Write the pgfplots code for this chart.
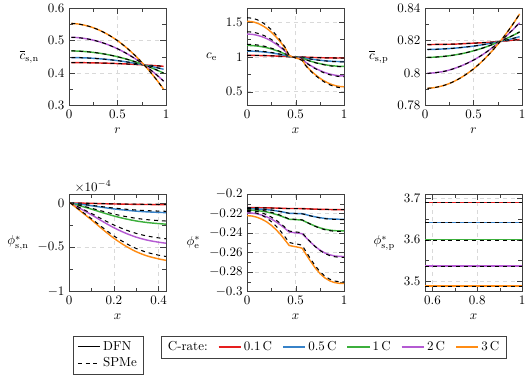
\documentclass[border=0pt]{standalone}
\usepackage{pgfplots}
\pgfplotsset{compat=1.18}
\usepackage{pgfplotstable}

\definecolor{cr1}{RGB}{230,30,30}
\definecolor{cr2}{RGB}{55,130,200}
\definecolor{cr3}{RGB}{60,175,60}
\definecolor{cr4}{RGB}{180,90,210}
\definecolor{cr5}{RGB}{255,140,20}

% particle concentrations (DFN and SPMe coincide)
\pgfplotstableread{
r     d1     d2     d3     d4     d5
0.025 0.4322 0.4478 0.4682 0.5101 0.5527
0.1   0.4321 0.4474 0.4675 0.5088 0.5507
0.2   0.4317 0.4463 0.4653 0.5045 0.5443
0.3   0.4311 0.4444 0.4617 0.4974 0.5336
0.4   0.4303 0.4417 0.4567 0.4875 0.5187
0.5   0.4292 0.4383 0.4502 0.4747 0.4996
0.6   0.4279 0.4341 0.4423 0.4591 0.4761
0.7   0.4263 0.4292 0.4329 0.4406 0.4484
0.8   0.4245 0.4235 0.4221 0.4193 0.4165
0.9   0.4225 0.4170 0.4099 0.3952 0.3803
0.975 0.4208 0.4117 0.3998 0.3752 0.3503
}\csn

\pgfplotstableread{
r     d1     d2     d3     d4     d5
0.025 0.8175 0.8145 0.8096 0.7998 0.7906
0.1   0.8176 0.8146 0.8098 0.8002 0.7911
0.2   0.8177 0.8149 0.8103 0.8011 0.7925
0.3   0.8178 0.8153 0.8111 0.8028 0.7949
0.4   0.8181 0.8159 0.8122 0.8051 0.7983
0.5   0.8184 0.8166 0.8137 0.8080 0.8026
0.6   0.8187 0.8175 0.8155 0.8116 0.8079
0.7   0.8191 0.8186 0.8177 0.8159 0.8142
0.8   0.8196 0.8198 0.8202 0.8208 0.8214
0.9   0.8202 0.8212 0.8230 0.8264 0.8296
0.975 0.8207 0.8224 0.8253 0.8310 0.8364
}\csp

% electrolyte concentration: d = DFN, s = SPMe
\pgfplotstableread{
x     d1    d2    d3    d4    d5    s1    s2    s3    s4    s5
0     1.020 1.082 1.163 1.326 1.510 1.022 1.090 1.179 1.359 1.561
0.05  1.020 1.081 1.161 1.323 1.504 1.022 1.089 1.177 1.355 1.554
0.1   1.019 1.078 1.155 1.310 1.485 1.021 1.086 1.171 1.341 1.534
0.15  1.018 1.072 1.145 1.290 1.453 1.020 1.079 1.160 1.319 1.498
0.2   1.016 1.065 1.131 1.262 1.409 1.018 1.072 1.144 1.288 1.450
0.25  1.014 1.056 1.113 1.225 1.352 1.015 1.062 1.124 1.248 1.387
0.3   1.011 1.045 1.090 1.180 1.282 1.012 1.050 1.099 1.198 1.310
0.35  1.008 1.032 1.064 1.128 1.200 1.009 1.035 1.070 1.141 1.220
0.4   1.004 1.017 1.034 1.067 1.105 1.004 1.019 1.037 1.074 1.116
0.433 1.001 1.003 1.006 1.013 1.020 1.001 1.003 1.007 1.014 1.022
0.5   0.999 0.998 0.995 0.990 0.985 0.999 0.998 0.995 0.990 0.984
0.567 0.998 0.992 0.984 0.968 0.950 0.998 0.992 0.983 0.967 0.948
0.6   0.995 0.981 0.963 0.926 0.884 0.995 0.980 0.962 0.923 0.879
0.65  0.992 0.970 0.939 0.878 0.810 0.992 0.969 0.937 0.873 0.802
0.7   0.990 0.960 0.919 0.838 0.747 0.990 0.958 0.916 0.832 0.737
0.75  0.988 0.951 0.902 0.804 0.693 0.987 0.949 0.898 0.796 0.681
0.8   0.986 0.944 0.888 0.775 0.649 0.985 0.942 0.884 0.766 0.635
0.85  0.985 0.938 0.876 0.753 0.614 0.984 0.936 0.871 0.743 0.599
0.9   0.984 0.934 0.869 0.738 0.590 0.983 0.931 0.864 0.728 0.574
0.95  0.983 0.932 0.864 0.728 0.575 0.982 0.929 0.859 0.717 0.558
1     0.983 0.931 0.862 0.725 0.570 0.982 0.928 0.856 0.714 0.553
}\ce

% negative electrode potential, in units of 1e-4
\pgfplotstableread{
x     d1      d2      d3      d4      d5      s1      s2      s3      s4      s5
0.005 0       0       0       0       0       0       0       0       0       0
0.05  -0.0028 -0.0154 -0.0336 -0.0637 -0.0907 -0.0025 -0.0133 -0.0287 -0.0567 -0.0847
0.1   -0.0059 -0.0325 -0.0708 -0.1342 -0.1912 -0.0053 -0.0280 -0.0605 -0.1195 -0.1785
0.15  -0.0092 -0.0506 -0.1104 -0.2093 -0.2981 -0.0083 -0.0437 -0.0943 -0.1863 -0.2783
0.2   -0.0123 -0.0677 -0.1476 -0.2798 -0.3985 -0.0111 -0.0584 -0.1261 -0.2491 -0.3721
0.25  -0.0149 -0.0820 -0.1788 -0.3390 -0.4828 -0.0134 -0.0708 -0.1527 -0.3017 -0.4507
0.3   -0.0170 -0.0935 -0.2040 -0.3868 -0.5508 -0.0153 -0.0808 -0.1743 -0.3443 -0.5143
0.35  -0.0185 -0.1018 -0.2220 -0.4209 -0.5994 -0.0167 -0.0879 -0.1896 -0.3746 -0.5596
0.4   -0.0195 -0.1073 -0.2340 -0.4436 -0.6318 -0.0176 -0.0926 -0.1999 -0.3949 -0.5899
0.433 -0.0200 -0.1100 -0.2400 -0.4550 -0.6480 -0.0180 -0.0950 -0.2050 -0.4050 -0.6050
}\phisn

\pgfplotstableread{
x     d1      d2      d3      d4      d5      s1      s2      s3      s4      s5
0     -0.2140 -0.2150 -0.2165 -0.2193 -0.2222 -0.2141 -0.2148 -0.2155 -0.2168 -0.2180
0.05  -0.2140 -0.2151 -0.2166 -0.2196 -0.2226 -0.2141 -0.2149 -0.2156 -0.2171 -0.2184
0.1   -0.2140 -0.2153 -0.2170 -0.2203 -0.2238 -0.2141 -0.2151 -0.2160 -0.2179 -0.2197
0.15  -0.2141 -0.2156 -0.2176 -0.2216 -0.2258 -0.2142 -0.2154 -0.2167 -0.2193 -0.2217
0.2   -0.2142 -0.2160 -0.2184 -0.2234 -0.2285 -0.2143 -0.2158 -0.2176 -0.2212 -0.2245
0.25  -0.2143 -0.2166 -0.2196 -0.2257 -0.2322 -0.2144 -0.2164 -0.2188 -0.2237 -0.2284
0.3   -0.2144 -0.2173 -0.2210 -0.2287 -0.2368 -0.2145 -0.2172 -0.2203 -0.2269 -0.2331
0.35  -0.2146 -0.2181 -0.2227 -0.2322 -0.2422 -0.2147 -0.2181 -0.2221 -0.2307 -0.2388
0.4   -0.2148 -0.2191 -0.2246 -0.2362 -0.2485 -0.2149 -0.2191 -0.2242 -0.2350 -0.2453
0.433 -0.2149 -0.2198 -0.2259 -0.2390 -0.2528 -0.2150 -0.2198 -0.2256 -0.2380 -0.2497
0.467 -0.2149 -0.2199 -0.2261 -0.2394 -0.2535 -0.2150 -0.2199 -0.2258 -0.2385 -0.2505
0.5   -0.2149 -0.2200 -0.2263 -0.2398 -0.2541 -0.2150 -0.2200 -0.2260 -0.2389 -0.2511
0.533 -0.2149 -0.2201 -0.2265 -0.2402 -0.2547 -0.2150 -0.2201 -0.2262 -0.2393 -0.2517
0.567 -0.2150 -0.2202 -0.2268 -0.2408 -0.2556 -0.2151 -0.2203 -0.2265 -0.2399 -0.2526
0.6   -0.2151 -0.2210 -0.2284 -0.2441 -0.2608 -0.2152 -0.2211 -0.2283 -0.2435 -0.2580
0.65  -0.2153 -0.2223 -0.2307 -0.2491 -0.2685 -0.2154 -0.2224 -0.2308 -0.2489 -0.2660
0.7   -0.2155 -0.2234 -0.2329 -0.2537 -0.2756 -0.2156 -0.2235 -0.2331 -0.2538 -0.2734
0.75  -0.2157 -0.2243 -0.2347 -0.2575 -0.2815 -0.2157 -0.2245 -0.2351 -0.2579 -0.2795
0.8   -0.2158 -0.2250 -0.2361 -0.2604 -0.2860 -0.2158 -0.2253 -0.2366 -0.2610 -0.2842
0.85  -0.2159 -0.2255 -0.2370 -0.2623 -0.2890 -0.2159 -0.2257 -0.2376 -0.2631 -0.2873
0.9   -0.2160 -0.2257 -0.2376 -0.2635 -0.2908 -0.2160 -0.2260 -0.2382 -0.2643 -0.2892
0.95  -0.2160 -0.2259 -0.2378 -0.2640 -0.2916 -0.2160 -0.2262 -0.2384 -0.2649 -0.2900
1     -0.2160 -0.2259 -0.2379 -0.2641 -0.2918 -0.2160 -0.2262 -0.2385 -0.2650 -0.2902
}\phie

\pgfplotstableread{
x      d1    d2    d3    d4    d5    s1    s2    s3    s4    s5
0.5667 3.690 3.642 3.600 3.537 3.488 3.689 3.641 3.598 3.535 3.487
1      3.690 3.642 3.600 3.537 3.488 3.689 3.641 3.598 3.535 3.487
}\phisp

\pgfplotsset{
  panel/.style={
    scale only axis, width=74.6pt, height=75pt,
    grid=major, grid style={dashed, black!15},
    minor tick num=1,
    axis line style={black!75}, tick style={black!75},
    ylabel style={rotate=-90},
  },
  dfn/.style={line width=1.1pt},
  spme/.style={black, dashed, line width=0.8pt},
}

\begin{document}
\begin{tikzpicture}
\path[use as bounding box] (-53.1pt,6.2pt) rectangle (354.5pt,-282.2pt);
% ---- top row ----
\begin{axis}[panel, at={(0pt,0pt)}, anchor=north west,
  xmin=0, xmax=1, ymin=0.3, ymax=0.6,
  xtick={0,0.5,1}, ytick={0.3,0.4,0.5,0.6},
  xlabel={$r$}, ylabel={$\overline{c}_{\mathrm{s,n}}$}]
  \pgfplotsinvokeforeach{1,...,5}{
    \addplot[dfn, cr#1, smooth] table[x=r, y=d#1] {\csn};
    \addplot[spme, smooth] table[x=r, y=d#1] {\csn};
  }
\end{axis}

\begin{axis}[panel, at={(137pt,0pt)}, anchor=north west,
  xmin=0, xmax=1, ymin=0.3, ymax=1.7,
  xtick={0,0.5,1}, ytick={0.5,1,1.5},
  xlabel={$x$}, ylabel={$c_{\mathrm{e}}$}]
  \pgfplotsinvokeforeach{1,...,5}{
    \addplot[dfn, cr#1, smooth] table[x=x, y=d#1] {\ce};
    \addplot[spme, smooth] table[x=x, y=s#1] {\ce};
  }
\end{axis}

\begin{axis}[panel, at={(273.8pt,0pt)}, anchor=north west,
  xmin=0, xmax=1, ymin=0.78, ymax=0.84,
  xtick={0,0.5,1}, ytick={0.78,0.8,0.82,0.84},
  xlabel={$r$}, ylabel={$\overline{c}_{\mathrm{s,p}}$}]
  \pgfplotsinvokeforeach{1,...,5}{
    \addplot[dfn, cr#1, smooth] table[x=r, y=d#1] {\csp};
    \addplot[spme, smooth] table[x=r, y=d#1] {\csp};
  }
\end{axis}

% ---- bottom row ----
\begin{axis}[panel, at={(0pt,-143pt)}, anchor=north west,
  xmin=0, xmax=0.4333, ymin=-1e-4, ymax=0.1e-4,
  xtick={0,0.2,0.4}, ytick={-1e-4,-0.5e-4,0},
  scaled y ticks=base 10:4, tick scale binop=\times,
  every y tick scale label/.style={at={(rel axis cs:0,1)}, anchor=south west, inner sep=1pt, xshift=3pt},
  xlabel={$x$}, ylabel={$\phi^*_{\mathrm{s,n}}$},
  legend cell align=left,
  legend style={at={(0.042,-0.456)}, anchor=north west, draw=black!75}]
  \addlegendimage{draw=black, line width=0.8pt}
  \addlegendentry{DFN}
  \addlegendimage{draw=black, dashed, line width=0.8pt}
  \addlegendentry{SPMe}
  \pgfplotsinvokeforeach{1,...,5}{
    \addplot[dfn, cr#1, smooth] table[x=x, y expr=\thisrow{d#1}*1e-4] {\phisn};
    \addplot[spme, smooth] table[x=x, y expr=\thisrow{s#1}*1e-4] {\phisn};
  }
\end{axis}

\begin{axis}[panel, at={(137pt,-143pt)}, anchor=north west,
  xmin=0, xmax=1, ymin=-0.3, ymax=-0.2,
  xtick={0,0.5,1}, ytick={-0.3,-0.28,-0.26,-0.24,-0.22,-0.2},
  xlabel={$x$}, ylabel={$\phi^*_{\mathrm{e}}$},
  legend columns=6,
  legend style={at={(-0.887,-0.456)}, anchor=north west, draw=black!75,
    /tikz/every even column/.append style={column sep=6pt}}]
  \addlegendimage{empty legend}
  \addlegendentry{C-rate:}
  \addlegendimage{draw=cr1, line width=0.8pt}
  \addlegendentry{0.1\,C}
  \addlegendimage{draw=cr2, line width=0.8pt}
  \addlegendentry{0.5\,C}
  \addlegendimage{draw=cr3, line width=0.8pt}
  \addlegendentry{1\,C}
  \addlegendimage{draw=cr4, line width=0.8pt}
  \addlegendentry{2\,C}
  \addlegendimage{draw=cr5, line width=0.8pt}
  \addlegendentry{3\,C}
  \pgfplotsinvokeforeach{1,...,5}{
    \addplot[dfn, cr#1] table[x=x, y=d#1] {\phie};
    \addplot[spme] table[x=x, y=s#1] {\phie};
  }
\end{axis}

\begin{axis}[panel, at={(273.8pt,-143pt)}, anchor=north west,
  xmin=0.5667, xmax=1, ymin=3.475, ymax=3.71,
  xtick={0.6,0.8,1}, ytick={3.5,3.6,3.7},
  xlabel={$x$}, ylabel={$\phi^*_{\mathrm{s,p}}$}]
  \pgfplotsinvokeforeach{1,...,5}{
    \addplot[dfn, draw=cr#1] table[x=x, y=d#1] {\phisp};
    \addplot[spme] table[x=x, y=s#1] {\phisp};
  }
\end{axis}
\end{tikzpicture}
\end{document}
